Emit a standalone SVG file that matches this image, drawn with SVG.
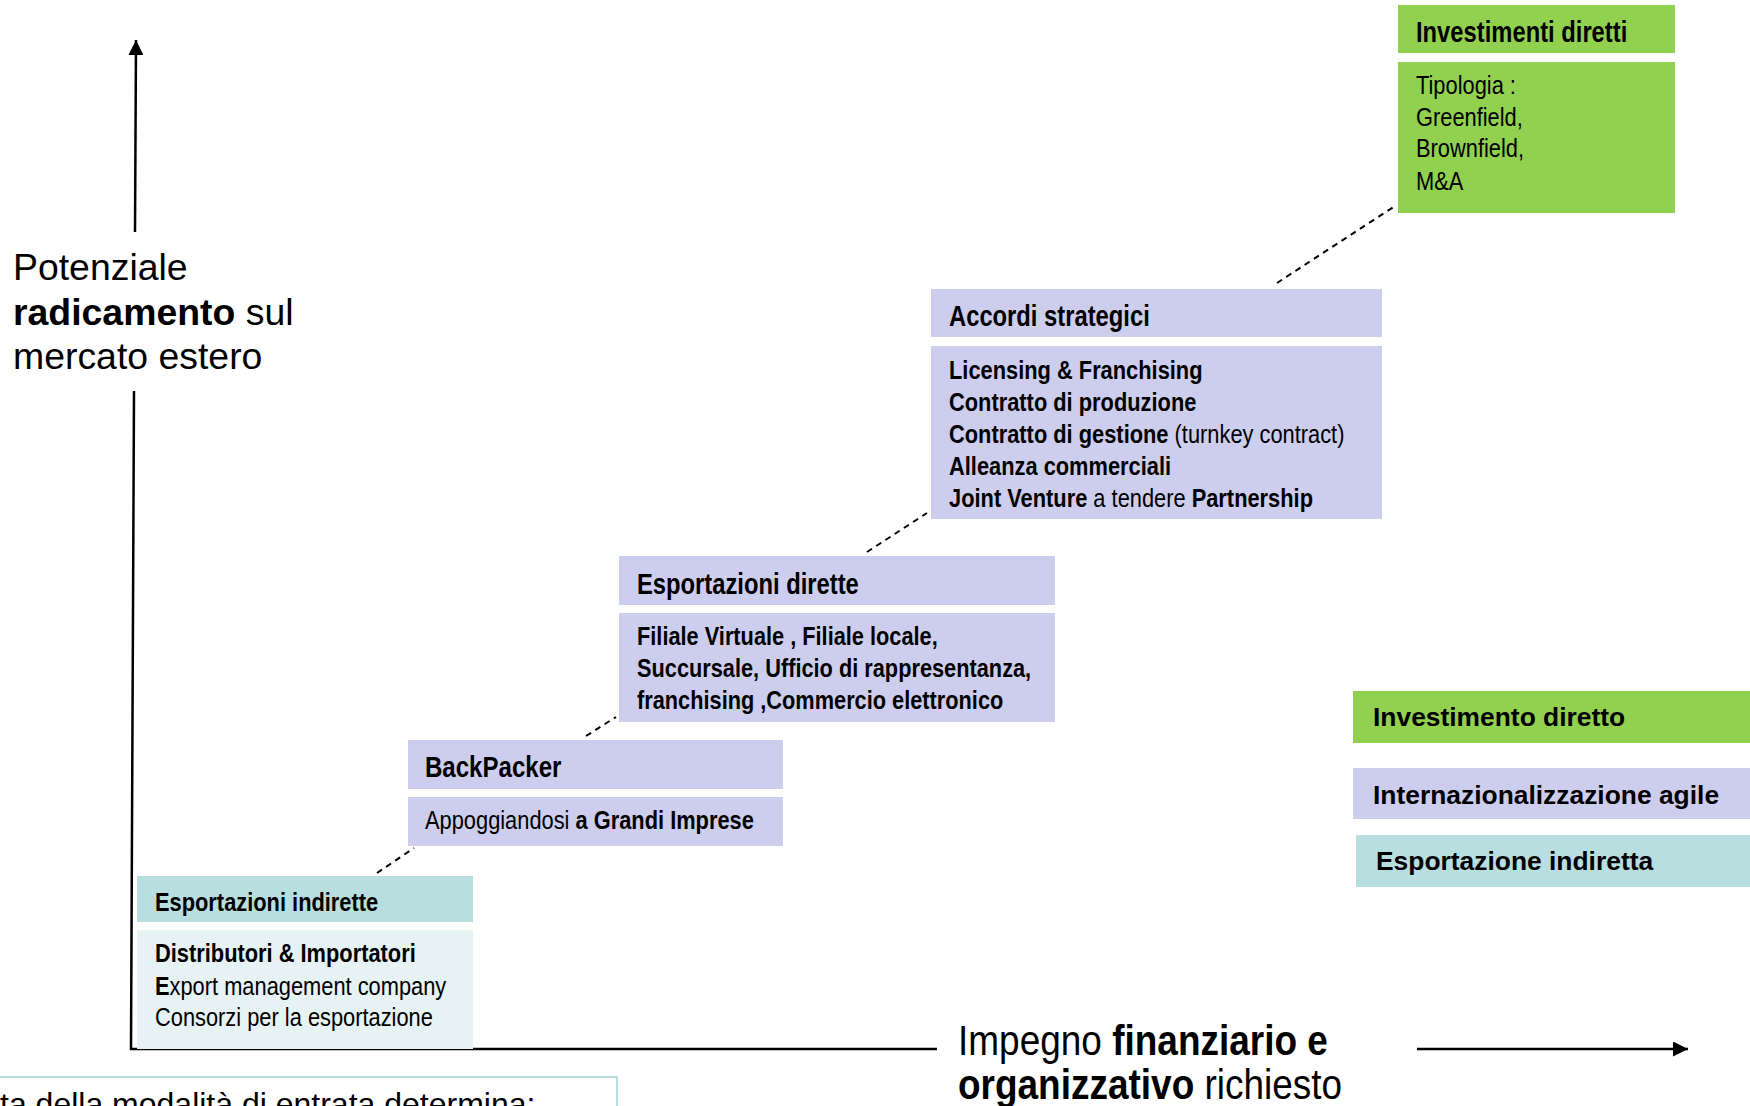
<svg xmlns="http://www.w3.org/2000/svg" width="1750" height="1106" viewBox="0 0 1750 1106">
<style>
.green{fill:#92d050}
.lav{fill:#cdcdee}
.teal{fill:#b8dee0}
.tealL{fill:#e6f2f3}
text{font-family:"Liberation Sans",Arial,sans-serif;fill:#000}
.h{font-size:29px;font-weight:bold}
.b{font-size:26px}
.bb{font-weight:bold}
.leg{font-size:26.4px;font-weight:bold}
.axis{fill:none;stroke:#000;stroke-width:2.5}
.dash{fill:none;stroke:#000;stroke-width:2;stroke-dasharray:6 5}
</style>
<defs>
<marker id="arr" viewBox="0 0 10 10" refX="10" refY="5" markerWidth="6" markerHeight="6" markerUnits="strokeWidth" orient="auto">
<path d="M0,0 L10,5 L0,10 z" fill="#000"/>
</marker>
</defs>
<rect width="1750" height="1106" fill="#fff"/>

<g id="connectors">
<line class="axis" x1="135" y1="232" x2="136" y2="40" marker-end="url(#arr)"/>
<polyline class="axis" points="134,391 131,1049 937,1049"/>
<line class="axis" x1="1417" y1="1049" x2="1688" y2="1049" marker-end="url(#arr)"/>
<line class="dash" x1="377" y1="873" x2="414" y2="848"/>
<line class="dash" x1="586" y1="736" x2="616" y2="717"/>
<line class="dash" x1="867" y1="552" x2="927" y2="513"/>
<line class="dash" x1="1277" y1="283" x2="1395" y2="206"/>
</g>

<g id="label-y">
<text style="font-size:37.4px" x="13" y="280">Potenziale</text>
<text style="font-size:37.4px" x="13" y="325"><tspan class="bb">radicamento</tspan> sul</text>
<text style="font-size:37.4px" x="13" y="369">mercato estero</text>
</g>

<g id="label-x" transform="translate(958,0) scale(0.86,1)">
<text style="font-size:43px" x="0" y="1055">Impegno <tspan class="bb">finanziario e</tspan></text>
<text style="font-size:43px" x="0" y="1099"><tspan class="bb">organizzativo</tspan> richiesto</text>
</g>

<g id="node-esportazioni-indirette">
<rect class="teal" x="137" y="876" width="336" height="46"/>
<rect class="tealL" x="137" y="930" width="336" height="119"/>
<g transform="translate(155,0) scale(0.84,1)">
<text style="font-size:26px;font-weight:bold" x="0" y="911">Esportazioni indirette</text>
<text class="b" x="0" y="962"><tspan class="bb">Distributori &amp; Importatori</tspan></text>
<text class="b" x="0" y="995"><tspan class="bb">E</tspan>xport management company</text>
<text class="b" x="0" y="1026">Consorzi per la esportazione</text>
</g>
</g>

<g id="node-backpacker">
<rect class="lav" x="408" y="740" width="375" height="49"/>
<rect class="lav" x="408" y="797" width="375" height="49"/>
<g transform="translate(425,0) scale(0.83,1)">
<text class="h" x="0" y="777">BackPacker</text>
</g>
<g transform="translate(425,0) scale(0.84,1)">
<text class="b" x="0" y="829">Appoggiandosi <tspan class="bb">a Grandi Imprese</tspan></text>
</g>
</g>

<g id="node-esportazioni-dirette">
<rect class="lav" x="619" y="556" width="436" height="49"/>
<rect class="lav" x="619" y="613" width="436" height="109"/>
<g transform="translate(637,0) scale(0.82,1)">
<text class="h" x="0" y="594">Esportazioni dirette</text>
</g>
<g transform="translate(637,0) scale(0.837,1)">
<text class="b bb" x="0" y="645">Filiale Virtuale , Filiale locale,</text>
<text class="b bb" x="0" y="677">Succursale, Ufficio di rappresentanza,</text>
<text class="b bb" x="0" y="709">franchising ,Commercio elettronico</text>
</g>
</g>

<g id="node-accordi-strategici">
<rect class="lav" x="931" y="289" width="451" height="48"/>
<rect class="lav" x="931" y="346" width="451" height="173"/>
<g transform="translate(949,0) scale(0.82,1)">
<text class="h" x="0" y="326">Accordi strategici</text>
</g>
<g transform="translate(949,0) scale(0.84,1)">
<text class="b bb" x="0" y="379">Licensing &amp; Franchising</text>
<text class="b bb" x="0" y="411">Contratto di produzione</text>
<text class="b" x="0" y="443"><tspan class="bb">Contratto di gestione</tspan> (turnkey contract)</text>
<text class="b bb" x="0" y="475">Alleanza commerciali</text>
<text class="b" x="0" y="507"><tspan class="bb">Joint Venture</tspan> a tendere <tspan class="bb">Partnership</tspan></text>
</g>
</g>

<g id="node-investimenti-diretti">
<rect class="green" x="1398" y="5" width="277" height="48"/>
<rect class="green" x="1398" y="62" width="277" height="151"/>
<g transform="translate(1416,0) scale(0.82,1)">
<text class="h" x="0" y="42">Investimenti diretti</text>
</g>
<g transform="translate(1416,0) scale(0.84,1)">
<text class="b" x="0" y="94">Tipologia :</text>
<text class="b" x="0" y="126">Greenfield,</text>
<text class="b" x="0" y="157">Brownfield,</text>
<text class="b" x="0" y="190">M&amp;A</text>
</g>
</g>

<g id="legend-investimento-diretto">
<rect class="green" x="1353" y="691" width="397" height="52"/>
<text class="leg" x="1373" y="726">Investimento diretto</text>
</g>
<g id="legend-internazionalizzazione-agile">
<rect class="lav" x="1353" y="768" width="397" height="51"/>
<text class="leg" x="1373" y="804">Internazionalizzazione agile</text>
</g>
<g id="legend-esportazione-indiretta">
<rect class="teal" x="1356" y="835" width="394" height="52"/>
<text class="leg" x="1376" y="870">Esportazione indiretta</text>
</g>

<g id="note">
<rect x="-5" y="1077" width="622" height="40" fill="#fff" stroke="#b8dee0" stroke-width="2"/>
<text style="font-size:32px" x="0" y="1115">ta della modalità di entrata determina:</text>
</g>
</svg>
